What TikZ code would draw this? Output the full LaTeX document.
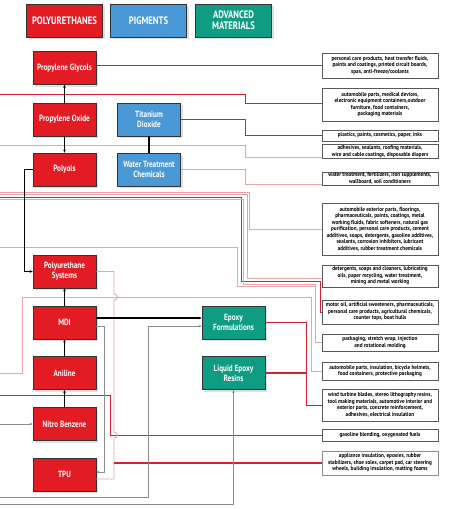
\documentclass[tikz,border=0pt]{standalone}
\usepackage{fontspec}
\setmainfont{PT Sans}
\newfontfamily\lblfont[FakeStretch=0.8]{PT Sans}
\newfontfamily\boxfont[FakeStretch=0.9]{PT Sans}
\usetikzlibrary{arrows.meta,shadows}
\definecolor{pured}{HTML}{E31B23}
\definecolor{pigblue}{HTML}{4A98D6}
\definecolor{advteal}{HTML}{0E9C83}
\definecolor{lnred}{HTML}{D42130}
\definecolor{lnpink}{HTML}{EBA3A5}
\definecolor{lngray}{HTML}{8C8C8C}
\tikzset{
  chem/.style={draw=black!80, line width=0.6pt, minimum width=63pt, minimum height=33pt,
    inner sep=1pt, text=white, align=center,
    font=\lblfont\bfseries\fontsize{9}{10}\selectfont,
    drop shadow={opacity=0.25,shadow xshift=2pt,shadow yshift=-2pt}},
  hdr/.style={chem, minimum width=76pt, font=\lblfont\bfseries\fontsize{10.8}{11}\selectfont},
  usebox/.style={draw=black!65, line width=0.6pt, fill=white, minimum width=116pt, align=center,
    inner sep=0.8pt, font=\boxfont\bfseries\fontsize{5.8}{6.5}\selectfont},
  blk/.style={black, line width=0.6pt},
  arr/.style={-{Stealth[length=3pt,width=2.6pt]}},
  gry/.style={lngray, line width=0.7pt},
  rdl/.style={lnred, line width=0.7pt},
  rdthick/.style={lnred, line width=1.3pt},
  pkl/.style={lnpink, line width=0.9pt},
}
\begin{document}
\begin{tikzpicture}[x=1pt,y=-1pt]
\useasboundingbox (0,0) rectangle (453,509);
% headers
\node[hdr,fill=pured] (hpu) at (64.5,20.5) {POLYURETHANES};
\node[hdr,fill=pigblue] (hpig) at (148.5,20.5) {PIGMENTS};
\node[hdr,fill=advteal] (hadv) at (233.5,20.5) {ADVANCED\\MATERIALS};
% chemical nodes
\node[chem,fill=pured] (pg) at (64.5,68) {Propylene Glycols};
\node[chem,fill=pured] (po) at (64.5,119.5) {Propylene Oxide};
\node[chem,fill=pured] (pol) at (64.5,169.5) {Polyols};
\node[chem,fill=pigblue] (td) at (149,119.5) {Titanium\\Dioxide};
\node[chem,fill=pigblue] (wtc) at (149,169.5) {Water Treatment\\Chemicals};
\node[chem,fill=pured] (ps) at (64.5,271.5) {Polyurethane\\Systems};
\node[chem,fill=pured] (mdi) at (64.5,322.5) {MDI};
\node[chem,fill=pured] (ani) at (64.5,373) {Aniline};
\node[chem,fill=pured] (nb) at (64.5,424) {Nitro Benzene};
\node[chem,fill=pured] (tpu) at (64.5,474.5) {TPU};
\node[chem,fill=advteal] (ef) at (233.5,322.5) {Epoxy\\Formulations};
\node[chem,fill=advteal] (ler) at (233.5,373) {Liquid Epoxy\\Resins};
% use boxes
\node[usebox,minimum height=25pt] (b1) at (380,65.5) {personal care products, heat transfer fluids,\\paints and coatings, printed circuit boards,\\spas, anti-freeze/coolants};
\node[usebox,minimum height=33pt] (b2) at (380,104.5) {automobile parts, medical devices,\\electronic equipment containers,outdoor\\furniture, food containers,\\packaging materials};
\node[usebox,minimum height=11pt] (b3) at (380,135.5) {plastics, paints, cosmetics, paper, inks};
\node[usebox,minimum height=13pt] (b4) at (380,151.5) {adhesives, sealants, roofing materials,\\wire and cable coatings, disposable diapers};
\node[usebox,minimum height=13pt] (b5) at (380,178.5) {water treatment, fertilizers, iron supplements,\\wallboard, soil conditioners};
\node[usebox,minimum height=52pt] (b6) at (380,229) {automobile exterior parts, floorings,\\pharmaceuticals, paints, coatings, metal\\working fluids, fabric softeners, natural gas\\purification, personal care products, cement\\additives, soaps, detergents, gasoline additives,\\sealants, corrosion inhibitors, lubricant\\additives, rubber treatment chemicals};
\node[usebox,minimum height=22pt] (b7) at (380,276) {detergents, soaps and cleaners, lubricating\\oils, paper recycling, water treatment,\\mining and metal working};
\node[usebox,minimum height=24pt] (b8) at (380,312) {motor oil, artificial sweeteners, pharmaceuticals,\\personal care products, agricultural chemicals,\\counter tops, boat hulls};
\node[usebox,minimum height=17pt] (b9) at (380,342.5) {packaging, stretch wrap, injection\\and rotational molding};
\node[usebox,minimum height=18pt] (b10) at (380,371) {automobile parts, insulation, bicycle helmets,\\food containers, protective packaging};
\node[usebox,minimum height=32pt] (b11) at (380,405) {wind turbine blades, stereo lithography resins,\\tool making materials, automotive interior and\\exterior parts, concrete reinforcement,\\adhesives, electrical insulation};
\node[usebox,minimum height=12pt] (b12) at (380,435) {gasoline blending, oxygenated fuels};
\node[usebox,minimum height=24pt,draw=lngray,line width=1pt] (b13) at (380,463) {appliance insulation, epoxies, rubber\\stabilizers, shoe soles, carpet pad, car steering\\wheels, building insulation, matting foams};
% free ends at the left edge
\coordinate (e2) at (0,94);
\coordinate (e4) at (0,145);
\coordinate (e6) at (0,192);
\coordinate (e7) at (0,194.5);
\coordinate (e8) at (0,197);
\coordinate (e9) at (0,199.5);
\coordinate (e9b) at (0,247);
\coordinate (e10) at (0,373);
\coordinate (e12) at (0,395);
\coordinate (enb) at (0,424);
\coordinate (eef) at (0,497);
\coordinate (eler) at (0,504);
% red / pink connectors
\draw[rdthick] (pg.east |- b1.west) -- (b1.west);
\draw[rdl] (e2) -- (245,94) -- (245,103.5) -- (b2.west |- 0,103.5);
\draw[rdl] (td.east) -- (245.5,119.5) |- (b3.west);
\draw[pkl] (e4) -- (245,145) -- (245,157) -- (b4.west |- 0,157);
\draw[pkl] (wtc.east) -- (245,169.5) -- (245,184) -- (b5.west |- 0,184);
\draw[pkl] (e6) -- (249,192) |- (b6.west);
\draw[pkl] (e7) -- (247,194.5) |- (b7.west |- 0,278);
\draw[rdl] (e8) -- (241,197) -- (241,281) -- (320,281) |- (b8.west);
\draw[pkl] (e9) -- (243,199.5) -- (243,284) -- (315,284) |- (b9.west);
\draw[pkl] (e9b) -- (237,247) -- (237,286) -- (315,286);
\draw[pkl] (e10) -- (22,373) -- (22,297) -- (311,297) |- (b10.west);
\draw[rdl] ([yshift=0.5pt]ef.east) -- (306,322) |- (b11.west);
\draw[rdthick] (ler.east) -- (306,373);
\draw[rdl] (e12) -- (110,395) |- (b12.west);
\draw[pkl] (ps.east) -- (114,271.5) -- (114,294) .. controls (118.5,294) and (118.5,300) .. (114,300)
  -- (114,432) .. controls (118.5,432) and (118.5,438) .. (114,438) -- (114,479) -- (tpu.east |- 0,479);
\draw[rdthick] (114,463) -- (b13.west);
% black / gray connectors
\draw[blk,arr] (po.north) -- (pg.south);
\draw[blk,arr] (po.south) -- (pol.north);
\draw[black,line width=1.3pt] (td.south) -- (wtc.north);
\draw[blk,arr] (pol.west) -- ++(-8,0) |- (ps.west);
\draw[blk,arr] (mdi.north) -- (ps.south);
\draw[blk,arr] (ani.north) -- (mdi.south);
\draw[blk,arr] (nb.north) -- (ani.south);
\draw[gry,arr] (enb) -- (nb.west);
\draw[black,line width=1.2pt,arr] ([yshift=4.5pt]mdi.east) -- ([yshift=4.5pt]ef.west);
\draw[gry,arr] ([yshift=-3.5pt]mdi.east) -- ++(8,0) |- ([yshift=2.5pt]tpu.east);
\draw[gry,arr] (eef) -- (148,497) |- ([yshift=-3.5pt]ef.west);
\draw[gry,arr] (eler) -- (ler.south |- eler) -- (ler.south);
\end{tikzpicture}
\end{document}
